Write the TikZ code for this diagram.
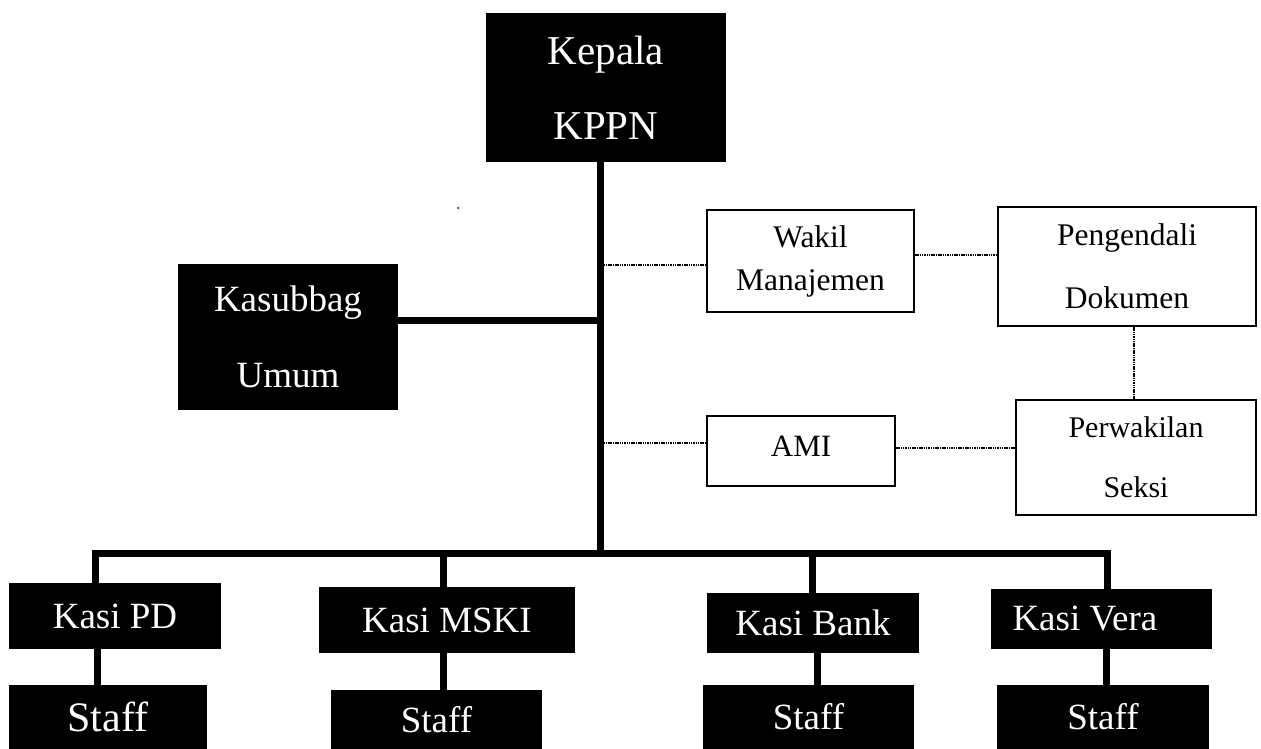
\documentclass[tikz,border=0pt]{standalone}
\usepackage{fontspec}
\setmainfont{Liberation Serif}
\tikzset{
  headbox/.style={fill=black, text=white, inner sep=0pt, align=center},
  kasibox/.style={headbox, font=\fontsize{37}{40}\selectfont},
  unitbox/.style={draw=black, line width=2pt, fill=white, inner sep=0pt, align=center},
  link/.style={line width=7pt},
  dotlink/.style={line width=1.6pt, dash pattern=on 1.5pt off 0.8pt},
}

\begin{document}
\begin{tikzpicture}[x=1pt, y=-1pt]
            \useasboundingbox (0,0) rectangle (1261,749);
            % pimpinan
            \node[headbox, minimum width=240pt, minimum height=149pt, font=\fontsize{41}{75}\selectfont] (kepala) at (606,87.5) {Kepala\\KPPN};
            \node[headbox, minimum width=220pt, minimum height=146pt, font=\fontsize{37}{76}\selectfont] (kasubbag) at (288,337) {Kasubbag\\Umum};
            % unit mutu
            \node[unitbox, minimum width=207pt, minimum height=102pt, font=\fontsize{31.5}{43}\selectfont] (wakil) at (810.5,261) {Wakil\\Manajemen};
            \node[unitbox, minimum width=258pt, minimum height=119pt, font=\fontsize{31.5}{63}\selectfont] (pengendali) at (1127,266.5) {Pengendali\\Dokumen};
            \node[unitbox, minimum width=188pt, minimum height=70pt, text depth=10pt, font=\fontsize{31}{34}\selectfont] (ami) at (801,451) {AMI};
            \node[unitbox, minimum width=240pt, minimum height=115pt, font=\fontsize{30}{60}\selectfont] (perwakilan) at (1136,457.5) {Perwakilan\\Seksi};
            % kasi
            \node[kasibox, minimum width=212pt, minimum height=66pt] (kasipd) at (115,616) {Kasi PD};
            \node[kasibox, minimum width=256pt, minimum height=66pt] (kasimski) at (447,620) {Kasi MSKI};
            \node[kasibox, minimum width=212pt, minimum height=60pt] (kasibank) at (813,623) {Kasi Bank};
            \node[kasibox, minimum width=221pt, minimum height=60pt, text width=178pt, align=flush left] (kasivera) at (1101.5,619) {Kasi Vera};
            % staff
            \node[headbox, minimum width=198pt, minimum height=64pt, font=\fontsize{42}{44}\selectfont] (staffpd) at (108,717) {Staff};
            \node[kasibox, minimum width=211pt, minimum height=59pt] (staffmski) at (436.5,719.5) {Staff};
            \node[kasibox, minimum width=211pt, minimum height=64pt] (staffbank) at (808.5,717) {Staff};
            \node[kasibox, minimum width=212pt, minimum height=64pt] (staffvera) at (1103,717) {Staff};
            % garis komando
            \coordinate (spine) at (600,553);
            \coordinate (busR) at (1107,553);
            \coordinate (jwakil) at (603.5,265);
            \coordinate (jami) at (603.5,443);
            \draw[link] (kepala.south -| spine) -- (spine);
            \draw[link] ([yshift=17pt]kasubbag.east) -- ([yshift=17pt]kasubbag.east -| spine);
            \draw[link] ([xshift=-20pt]kasipd.north) |- (busR) -- (busR |- kasivera.north);
            \draw[link] ([xshift=-4pt]kasimski.north) -- ([xshift=-4pt]kasimski.north |- spine);
            \draw[link] ([xshift=-1pt]kasibank.north) -- ([xshift=-1pt]kasibank.north |- spine);
            \draw[link] ([xshift=-18pt]kasipd.south) -- ([xshift=-18pt]kasipd.south |- staffpd.north);
            \draw[link] ([xshift=-4pt]kasimski.south) -- ([xshift=-4pt]kasimski.south |- staffmski.north);
            \draw[link] ([xshift=4pt]kasibank.south) -- ([xshift=4pt]kasibank.south |- staffbank.north);
            \draw[link] ([xshift=4.5pt]kasivera.south) -- ([xshift=4.5pt]kasivera.south |- staffvera.north);
            % garis koordinasi
            \draw[dotlink] (jwakil) -- (jwakil -| wakil.west);
            \draw[dotlink] (jami) -- (jami -| ami.west);
            \draw[dotlink] ([yshift=6pt]wakil.east) -- ([yshift=6pt]wakil.east -| pengendali.west);
            \draw[dotlink] ([xshift=7pt]pengendali.south) -- ([xshift=7pt]pengendali.south |- perwakilan.north);
            \draw[dotlink] ([yshift=3pt]ami.east) -- ([yshift=3pt]ami.east -| perwakilan.west);
            \fill (458,208) circle (1pt);
        \end{tikzpicture}
\end{document}
